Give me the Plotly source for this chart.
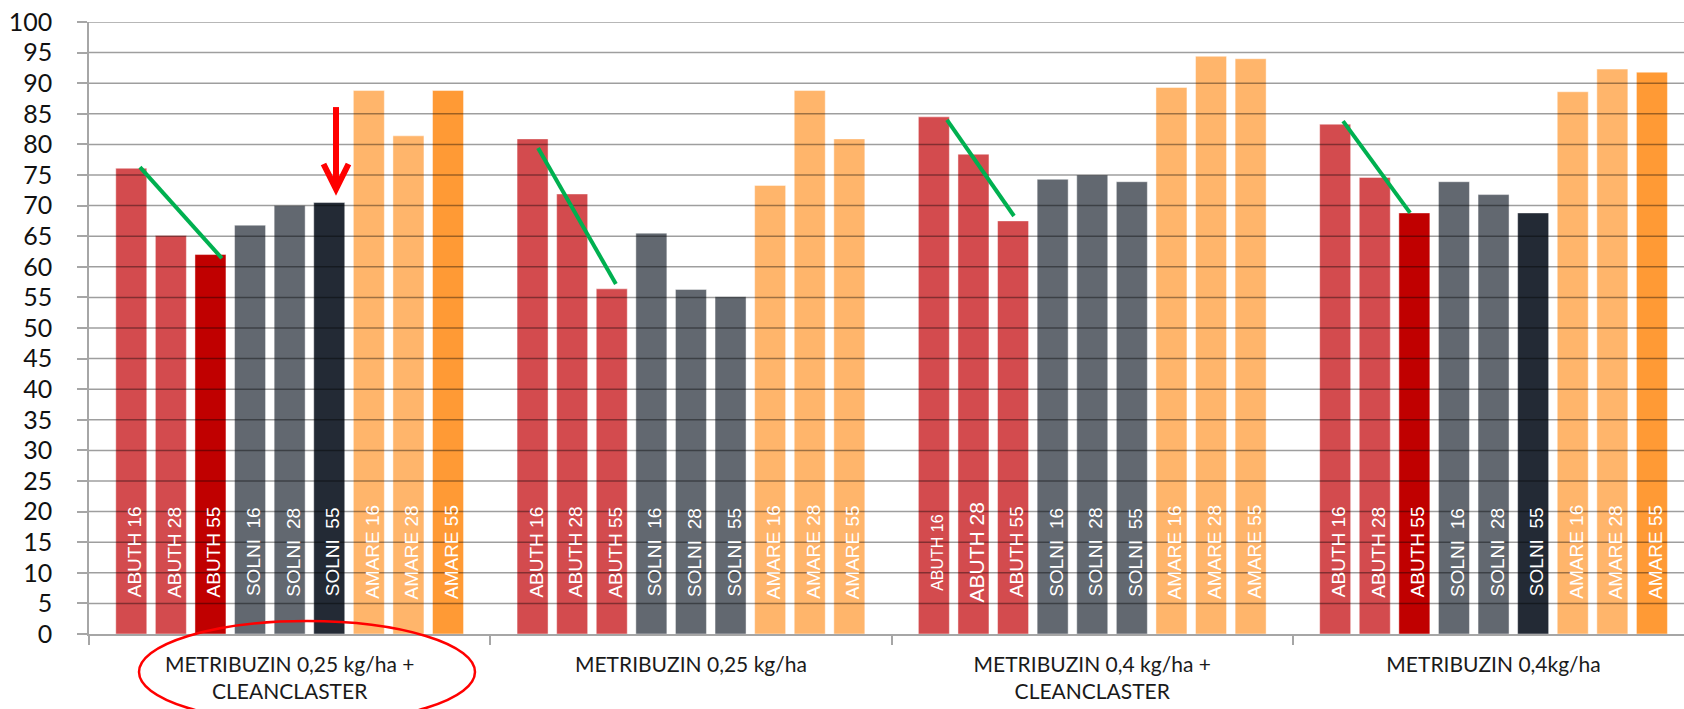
import plotly.graph_objects as go

# ---------------- data ----------------
groups = [
    "METRIBUZIN 0,25 kg/ha +<br>CLEANCLASTER",
    "METRIBUZIN 0,25 kg/ha",
    "METRIBUZIN 0,4 kg/ha +<br>CLEANCLASTER",
    "METRIBUZIN 0,4kg/ha",
]
bar_labels = ["ABUTH 16", "ABUTH 28", "ABUTH 55",
              "SOLNI  16", "SOLNI  28", "SOLNI  55",
              "AMARE 16", "AMARE 28", "AMARE 55"]

g1_values = [76.1, 65.1, 62.0, 66.8, 70.0, 70.5, 88.8, 81.4, 88.8]
g2_values = [80.9, 71.9, 56.4, 65.5, 56.3, 55.1, 73.3, 88.8, 80.9]
g3_values = [84.5, 78.4, 67.5, 74.3, 75.0, 73.9, 89.3, 94.4, 94.0]
g4_values = [83.3, 74.6, 68.8, 73.9, 71.8, 68.8, 88.6, 92.3, 91.8]
group_values = [g1_values, g2_values, g3_values, g4_values]

# colour keys per bar (LR light red, DR dark red, G grey, N navy, LO light orange, O orange)
g1_colors = ["LR", "LR", "DR", "G", "G", "N", "LO", "LO", "O"]
g2_colors = ["LR", "LR", "LR", "G", "G", "G", "LO", "LO", "LO"]
g3_colors = ["LR", "LR", "LR", "G", "G", "G", "LO", "LO", "LO"]
g4_colors = ["LR", "LR", "DR", "G", "G", "N", "LO", "LO", "O"]
group_colors = [g1_colors, g2_colors, g3_colors, g4_colors]

y_ticks = list(range(0, 101, 5))

# green trend lines: (x0, y0, x1, y1) in category units / values
trend_x0 = [-0.373, 0.619, 1.638, 2.625]
trend_y0 = [76.3, 79.4, 84.0, 83.8]
trend_x1 = [-0.169, 0.813, 1.805, 2.792]
trend_y1 = [61.4, 57.2, 68.3, 68.8]

# red arrow
arrow_x = 0.1155
arrow_y_top = 86.1
arrow_y_tip = 72.7
arrow_y_wing = 76.8

# ---------------- style ----------------
palette = {
    "LR": "#D34B4E",
    "DR": "#C00000",
    "G": "#626870",
    "N": "#232A35",
    "LO": "#FFB56B",
    "O": "#FF9A35",
}
# a few in-bar labels in the reference use a different font size
label_size_override = {(2, 0): 16, (2, 1): 21}

W, H = 1684, 709
M_L, M_R, M_T, M_B = 89, 0, 22, 75
CAT_PX = 401.3
BARGAP = 0.112
BARGROUPGAP = 0.217
n_bars = len(bar_labels)
step = (1 - BARGAP) / n_bars
plot_w = W - M_L - M_R
plot_h = H - M_T - M_B
x_range = [-0.5, -0.5 + plot_w / CAT_PX]

fig = go.Figure()
for i, lab in enumerate(bar_labels):
    fig.add_trace(go.Bar(
        x=groups,
        y=[gv[i] for gv in group_values],
        name=lab,
        marker=dict(color=[palette[gc[i]] for gc in group_colors],
                    line=dict(width=1, color="rgba(255,255,255,0.45)")),
        showlegend=False,
        hoverinfo="y",
    ))

annotations = []
for g in range(len(groups)):
    for i, lab in enumerate(bar_labels):
        annotations.append(dict(
            x=g + (i - (n_bars - 1) / 2) * step, y=13.4,
            xref="x", yref="y", text=lab, showarrow=False,
            textangle=-90, xshift=4, yanchor="middle", xanchor="center",
            font=dict(family="Liberation Sans, Arial",
                      size=label_size_override.get((g, i), 19), color="white"),
        ))

shapes = []
# grid lines drawn over bars (as in the reference)
for t in y_ticks[1:]:
    shapes.append(dict(type="line", xref="paper", yref="y", x0=0, x1=1, y0=t, y1=t,
                       line=dict(color="rgba(0,0,0,0.38)", width=1.5), layer="above"))
# green trend lines
for x0, y0, x1, y1 in zip(trend_x0, trend_y0, trend_x1, trend_y1):
    shapes.append(dict(type="line", xref="x", yref="y", x0=x0, y0=y0, x1=x1, y1=y1,
                       line=dict(color="#00B050", width=4), layer="above"))
# red arrow
shapes.append(dict(type="line", xref="x", yref="y", x0=arrow_x, x1=arrow_x,
                   y0=arrow_y_top, y1=arrow_y_tip + 0.6,
                   line=dict(color="#FF0000", width=6), layer="above"))
wing = 12.5 / CAT_PX
shapes.append(dict(type="path", xref="x", yref="y",
                   path=f"M {arrow_x - wing},{arrow_y_wing} L {arrow_x},{arrow_y_tip} L {arrow_x + wing},{arrow_y_wing}",
                   line=dict(color="#FF0000", width=6), layer="above"))
# red ellipse around first category label
shapes.append(dict(type="circle", xref="paper", yref="paper",
                   x0=(139 - M_L) / plot_w, x1=(475 - M_L) / plot_w,
                   y0=-(723 - (H - M_B)) / plot_h, y1=-(621 - (H - M_B)) / plot_h,
                   line=dict(color="#FF0000", width=2.5), layer="above"))

fig.update_layout(
    width=W, height=H,
    margin=dict(l=M_L, r=M_R, t=M_T, b=M_B),
    paper_bgcolor="white", plot_bgcolor="white",
    barmode="group", bargap=BARGAP, bargroupgap=BARGROUPGAP,
    annotations=annotations, shapes=shapes,
    xaxis=dict(
        type="category", range=x_range, tickson="boundaries",
        ticks="outside", ticklen=9, tickcolor="#A6A6A6", tickwidth=1.5,
        showline=True, linecolor="#A6A6A6", linewidth=1.5,
        showgrid=False, automargin=False,
        tickfont=dict(family="Lato", size=21, color="#1A1A1A"),
        ticklabelstandoff=11,
    ),
    yaxis=dict(
        range=[0, 100], tickvals=y_ticks, ticktext=[str(t) for t in y_ticks],
        ticks="outside", ticklen=10, tickcolor="#A6A6A6", tickwidth=1.5,
        showline=True, linecolor="#A6A6A6", linewidth=1.5,
        showgrid=False, zeroline=False, automargin=False,
        tickfont=dict(family="Lato", size=25, color="#111111"),
        ticklabelstandoff=20,
    ),
)

fig.write_html("out.html", config={"displayModeBar": False},
               post_script="document.body.style.margin='0px';")
